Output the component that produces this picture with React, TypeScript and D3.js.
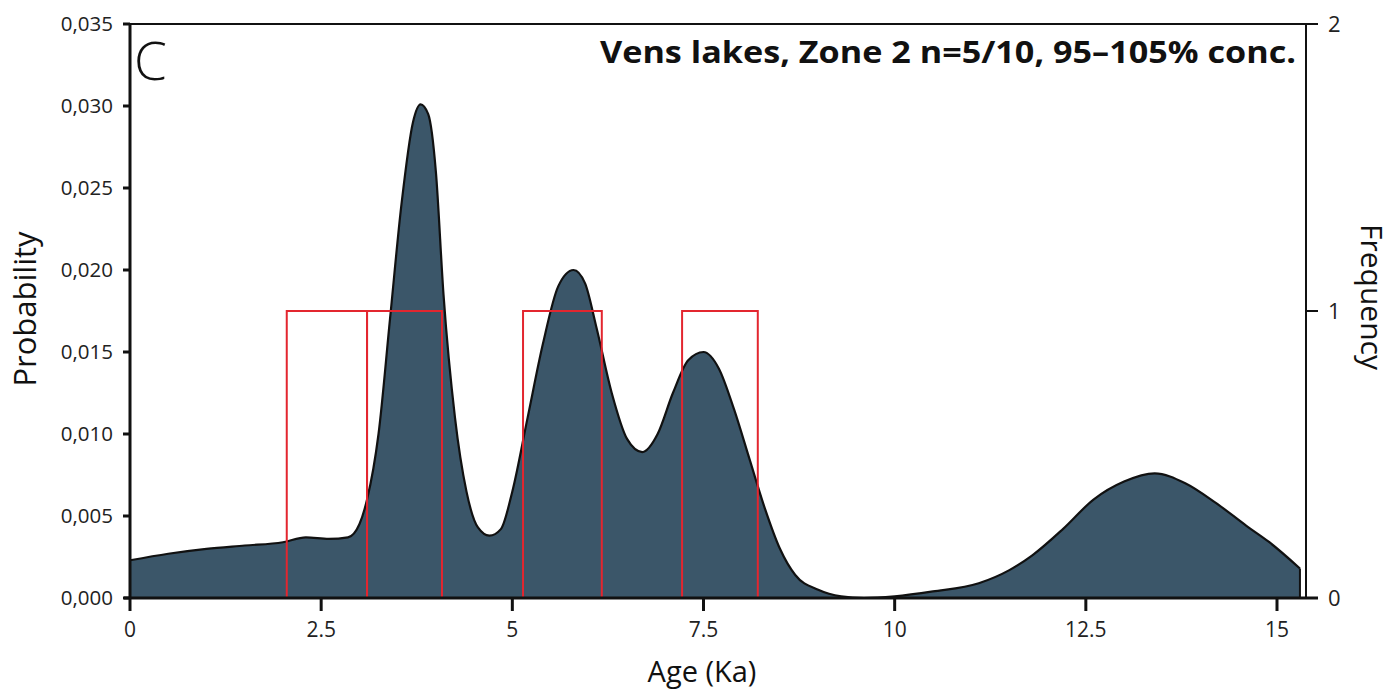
import React from 'react';
import * as d3 from 'd3';

// probability density curve (age Ka, probability)
const ages = [0, 0.5, 1.0, 1.5, 2.0, 2.3, 2.6, 2.85, 3.0, 3.1, 3.25, 3.4, 3.55, 3.7, 3.8, 3.9, 4.0, 4.1, 4.25, 4.4, 4.55, 4.7, 4.85, 5.0, 5.2, 5.4, 5.6, 5.8, 5.95, 6.1, 6.3, 6.5, 6.7, 6.9, 7.1, 7.3, 7.5, 7.7, 7.9, 8.1, 8.3, 8.5, 8.7, 9.0, 9.3, 9.6, 10.0, 10.5, 11.1, 11.5, 11.8, 12.2, 12.6, 13.0, 13.4, 13.8, 14.2, 14.6, 14.9, 15.3];
const probs = [0.0023, 0.0027, 0.0030, 0.0032, 0.0034, 0.0037, 0.0036, 0.0037, 0.0045, 0.0060, 0.0100, 0.0170, 0.0240, 0.0290, 0.0301, 0.0295, 0.0260, 0.0185, 0.0110, 0.0065, 0.0043, 0.0038, 0.0042, 0.0065, 0.0110, 0.0155, 0.0190, 0.0200, 0.0192, 0.0165, 0.0125, 0.0097, 0.0089, 0.0100, 0.0125, 0.0145, 0.0150, 0.0140, 0.0115, 0.0085, 0.0055, 0.0030, 0.0014, 0.0005, 0.0001, 0.0, 0.0001, 0.0004, 0.0009, 0.0017, 0.0026, 0.0042, 0.0060, 0.0071, 0.0076, 0.0070, 0.0058, 0.0044, 0.0034, 0.0018];

// histogram bins (frequency)
const binStart = [2.05, 3.1, 5.14, 7.22];
const binEnd = [3.1, 4.08, 6.17, 8.21];
const binFreq = [1, 1, 1, 1];

const xTicks = [0, 2.5, 5, 7.5, 10, 12.5, 15];
const yTicks = [0, 0.005, 0.01, 0.015, 0.02, 0.025, 0.03, 0.035];
const freqTicks = [0, 1, 2];

const W = 1400;
const H = 692;
const left = 130, right = 1306, top = 24, bottom = 598;
const font = '"Open Sans", "Noto Sans", sans-serif';

export default function App() {
  const x = d3.scaleLinear().domain([0, 15]).range([left, 1277]);
  const y = d3.scaleLinear().domain([0, 0.035]).range([bottom, top]);
  const yf = d3.scaleLinear().domain([0, 2]).range([bottom, top]);

  const pts = ages.map((a, i) => [a, probs[i]] as [number, number]);
  const area = d3.area<[number, number]>()
    .x(d => x(d[0]))
    .y0(y(0))
    .y1(d => y(d[1]))
    .curve(d3.curveMonotoneX);
  const line = d3.line<[number, number]>()
    .x(d => x(d[0]))
    .y(d => y(d[1]))
    .curve(d3.curveMonotoneX);
  const lastX = x(ages[ages.length - 1]);

  return (
    <svg width={W} height={H} style={{ position: 'absolute', left: 0, top: 0, background: '#fff' }}>
      {/* density */}
      <path d={area(pts) || ''} fill="#3b5669" />
      <path d={line(pts) || ''} fill="none" stroke="#111" strokeWidth={2.2} />
      <line x1={lastX} x2={lastX} y1={y(probs[probs.length - 1])} y2={bottom} stroke="#111" strokeWidth={2} />

      {/* histogram */}
      {binStart.map((s, i) => (
        <rect key={i} x={x(s)} y={yf(binFreq[i])} width={x(binEnd[i]) - x(s)} height={yf(0) - yf(binFreq[i])}
          fill="none" stroke="#e3262f" strokeWidth={2} />
      ))}

      {/* frame */}
      <line x1={left} x2={right} y1={top} y2={top} stroke="#111" strokeWidth={2} />
      <line x1={left} x2={left} y1={top} y2={bottom} stroke="#111" strokeWidth={3} />
      <line x1={right} x2={right} y1={top} y2={bottom} stroke="#111" strokeWidth={2} />
      <line x1={left - 6} x2={right + 12} y1={bottom} y2={bottom} stroke="#111" strokeWidth={3} />

      {/* left axis */}
      {yTicks.map(t => (
        <g key={t}>
          <line x1={left - 7} x2={left} y1={y(t)} y2={y(t)} stroke="#111" strokeWidth={3} />
          <text x={113} y={y(t)} dy="0.35em" textAnchor="end" fontFamily={font} fontSize={20.5} fill="#222">
            {t.toFixed(3).replace('.', ',')}
          </text>
        </g>
      ))}

      {/* bottom axis */}
      {xTicks.map(t => (
        <g key={t}>
          <line x1={x(t)} x2={x(t)} y1={bottom} y2={bottom + 13} stroke="#111" strokeWidth={3} />
          <text x={x(t)} y={637} textAnchor="middle" fontFamily={font} fontSize={21} fill="#222">{t}</text>
        </g>
      ))}

      {/* right axis */}
      {freqTicks.map(t => (
        <g key={t}>
          <line x1={right} x2={right + 12} y1={yf(t)} y2={yf(t)} stroke="#111" strokeWidth={2} />
          <text x={1328} y={yf(t)} dy="0.35em" fontFamily={font} fontSize={22} fill="#222">{t}</text>
        </g>
      ))}

      {/* titles */}
      <text x={134} y={80} fontFamily={font} fontSize={53} fontWeight={300} fill="#111">C</text>
      <text x={1296} y={63} textAnchor="end" fontFamily={font} fontSize={30} fontWeight={700} fill="#111"
        textLength={696} lengthAdjust="spacingAndGlyphs">
        Vens lakes, Zone 2 n=5/10, 95–105% conc.
      </text>
      <text transform={`translate(36,309) rotate(-90)`} textAnchor="middle"
        fontFamily={font} fontSize={31} fill="#111">Probability</text>
      <text transform={`translate(1361,297) rotate(90)`} textAnchor="middle"
        fontFamily={font} fontSize={30} fill="#111">Frequency</text>
      <text x={702} y={682} textAnchor="middle" fontFamily={font} fontSize={29} fill="#111">Age (Ka)</text>
    </svg>
  );
}
